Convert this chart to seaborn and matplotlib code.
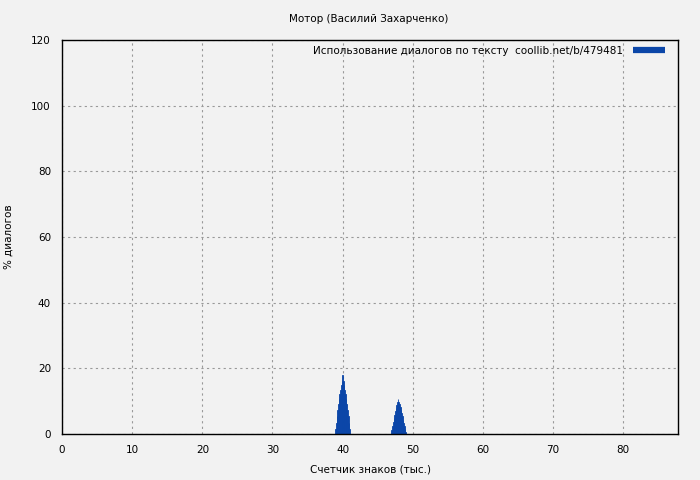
import numpy as np
import pandas as pd
import matplotlib
matplotlib.use("Agg")
import matplotlib.pyplot as plt
from matplotlib.lines import Line2D
import seaborn as sns

# Data (thousands of characters -> % of dialogues)
peak1_x = [39.0, 39.1, 39.2, 39.3, 39.4, 39.5, 39.6, 39.7, 39.8, 39.9, 40.0,
           40.1, 40.2, 40.3, 40.4, 40.5, 40.6, 40.7, 40.8, 40.9, 41.0]
peak1_y = [1.5, 3.5, 5.5, 7.3, 9.0, 10.6, 12.1, 13.5, 14.8, 16.0, 18.1,
           16.0, 14.8, 13.5, 12.1, 10.6, 9.0, 7.3, 5.5, 3.5, 1.5]
peak2_x = [47.0, 47.1, 47.2, 47.3, 47.4, 47.5, 47.6, 47.7, 47.8, 47.9,
           48.0, 48.1, 48.2, 48.3, 48.4, 48.5, 48.6, 48.7, 48.8, 48.9, 49.0]
peak2_y = [1.2, 2.5, 3.7, 4.8, 5.9, 6.9, 7.9, 8.8, 9.6, 10.7,
           9.8, 9.0, 8.2, 7.3, 6.4, 5.4, 4.4, 3.4, 2.4, 1.4, 0.6]

x_ticks = [0, 10, 20, 30, 40, 50, 60, 70, 80]
y_ticks = [0, 20, 40, 60, 80, 100, 120]

title = "Мотор (Василий Захарченко)"
xlabel = "Счетчик знаков (тыс.)"
ylabel = "% диалогов"
legend_label = "Использование диалогов по тексту  coollib.net/b/479481"

bg = "#f2f2f2"
blue = "#0b46a8"
fs = 7.5

sns.set_style("white")
plt.rcParams["font.family"] = ["DejaVu Sans"]
plt.rcParams["text.color"] = "black"
plt.rcParams["axes.labelcolor"] = "black"

df = pd.DataFrame({"x": peak1_x + peak2_x, "y": peak1_y + peak2_y})

fig = plt.figure(figsize=(7.0, 4.8), dpi=100, facecolor=bg)
ax = fig.add_axes([62 / 700, 1 - 434 / 480, 616 / 700, 394 / 480])
ax.set_facecolor(bg)

sns.barplot(data=df, x="x", y="y", native_scale=True, width=1.0,
            color=blue, saturation=1, edgecolor=blue, linewidth=0.6, ax=ax,
            errorbar=None)

ax.set_xlim(0, 87.8)
ax.set_ylim(0, 120)
ax.set_xticks(x_ticks)
ax.set_yticks(y_ticks)
ax.set_xticklabels([str(t) for t in x_ticks])
ax.set_yticklabels([str(t) for t in y_ticks])
ax.tick_params(axis="both", direction="out", length=4, width=1, colors="black",
               labelsize=fs, pad=4)
ax.grid(True, color="#999999", linestyle=(0, (2, 3)), linewidth=0.8)
ax.set_axisbelow(True)
for s in ax.spines.values():
    s.set_visible(True)
    s.set_color("black")
    s.set_linewidth(1)

ax.set_xlabel("")
ax.set_ylabel("")
fig.text(370 / 700, 1 - 469 / 480, xlabel, ha="center", va="center",
         fontsize=fs, color="black")
fig.text(9 / 700, 1 - 237 / 480, ylabel, ha="center", va="center", fontsize=fs,
         rotation=90, color="black")
fig.text(369 / 700, 1 - 19 / 480, title, ha="center", va="center",
         fontsize=fs, color="black")

handle = Line2D([0], [0], color=blue, linewidth=4.5, solid_capstyle="butt")
leg = fig.legend([handle], [legend_label], loc="center right",
                 bbox_to_anchor=(665 / 700, 1 - 51 / 480), frameon=False,
                 markerfirst=False, fontsize=fs, handlelength=3.1,
                 borderaxespad=0, borderpad=0, handletextpad=0.9,
                 labelcolor="black")

fig.savefig("out.png", dpi=100, facecolor=bg)
